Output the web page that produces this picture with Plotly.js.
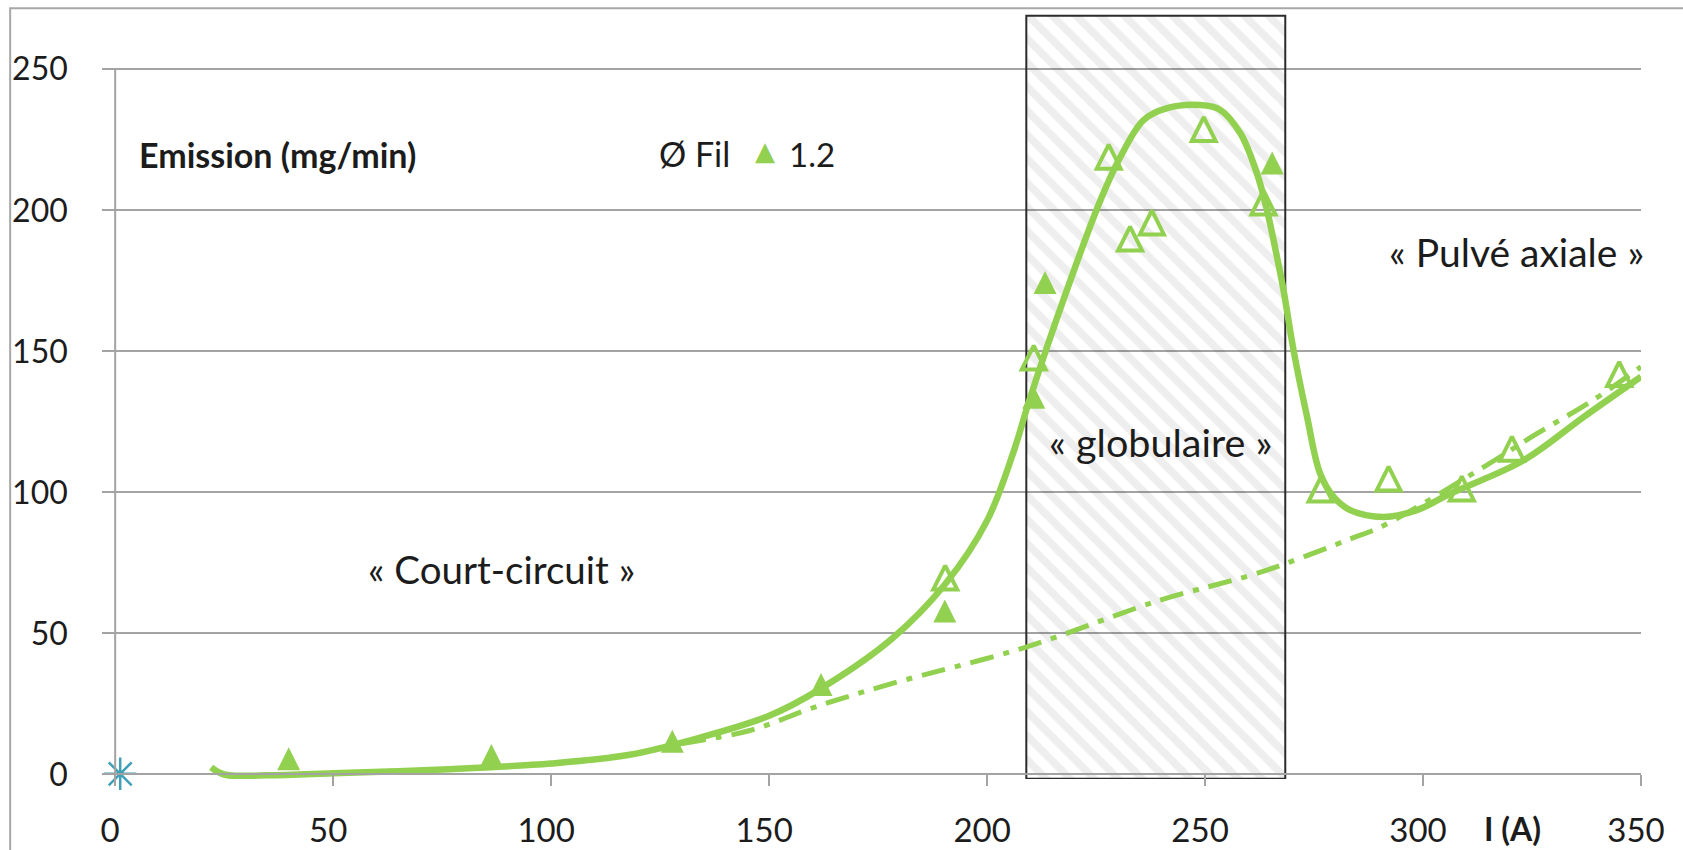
<!DOCTYPE html>
<html><head><meta charset="utf-8">
<script src="https://cdn.plot.ly/plotly-3.0.1.min.js"></script>
<style>html,body{margin:0;padding:0;background:#fff;} #chart{width:1683px;height:850px;}</style>
</head><body><div id="chart"></div>
<script>
// ---- data ----
// filled triangles (series Ø 1.2)
const filledI = [39.8, 86.3, 127.8, 161.9, 190.3, 210.7, 213.3, 265.4];
const filledE = [5.6, 6.7, 11.8, 31.9, 58.0, 133.7, 174.4, 216.8];
// open triangles
const openI = [190.4, 210.7, 227.9, 232.8, 237.8, 249.7, 263.4, 276.5, 292.1, 308.9, 320.4, 345.0];
const openE = [69.8, 147.8, 219.0, 190.0, 195.7, 228.8, 202.8, 101.0, 104.9, 101.4, 115.5, 142.0];
// solid fitted curve
const fitI = [22, 25, 35, 50, 75, 100, 118, 134, 150, 161.4, 178.1, 190.4, 200, 206.2, 209.7, 218.3, 226, 230.6, 235.9, 241.3, 248.9, 253.5, 258.1, 261.9, 264.2, 266.5, 268, 270.3, 273.4, 276.4, 279.5, 283.3, 291, 298.6, 306.3, 323.1, 336.9, 350];
const fitE = [2.5, 0.0, -0.3, 0.4, 1.8, 3.9, 7.0, 13.0, 20.8, 30.0, 48.0, 67.5, 90.0, 115.0, 132.7, 171.7, 203.6, 219.0, 232.0, 236.2, 237.3, 235.6, 227.3, 213.1, 200.1, 183.5, 171.7, 150.4, 126.8, 106.7, 98.4, 93.7, 91.3, 93.7, 99.6, 111.4, 126.8, 141.0];
// dash-dot baseline curve
const baseI = [130, 145.6, 160.5, 178.1, 208.8, 239.5, 260.4, 269.4, 283.3, 291, 313.9, 326.2, 338.4, 350];
const baseE = [11.0, 15.6, 23.9, 32.2, 45.1, 61.7, 70.6, 75.3, 83.5, 88.3, 109.0, 120.9, 132.1, 144.5];
// reference point (star)
const refI = [1.15];
const refE = [0.25];
// globular transfer region (A)
const globularStart = 209.0;
const globularEnd = 268.4;
// axis ticks
const xTicks = [0, 50, 100, 150, 200, 250, 300, 350];
const yTicks = [0, 50, 100, 150, 200, 250];
const seriesName = '1.2';

// ---- styling ----
const GREEN = '#92D050';
const GRID = '#a3a3a3';
const FONT = 'Lato, "Open Sans", sans-serif';
const TXT = '#1c1c1c';
const yMin = -1.6, yMax = 269.6, xMin = -0.5, xMax = 350;
const regionBottom = -1.5, regionTop = 269.0;

const traces = [
  {
    type: 'bar',
    x: [(globularStart + globularEnd) / 2],
    y: [regionTop - regionBottom],
    base: [regionBottom],
    width: [globularEnd - globularStart],
    marker: {
      color: 'rgba(255,255,255,0)',
      line: {color: '#2b2b2b', width: 2},
      pattern: {shape: '\\', fgcolor: 'rgba(0,0,0,0.065)', bgcolor: 'rgba(255,255,255,0)', size: 17, solidity: 0.45, fillmode: 'replace'}
    },
    hoverinfo: 'skip', showlegend: false
  },
  {
    type: 'scatter', mode: 'lines', x: baseI, y: baseE,
    line: {color: GREEN, width: 5, dash: '24px,10px,6px,10px', shape: 'spline', smoothing: 1},
    showlegend: false, hoverinfo: 'skip'
  },
  {
    type: 'scatter', mode: 'lines', x: fitI, y: fitE,
    line: {color: GREEN, width: 6.5, shape: 'spline', smoothing: 1},
    showlegend: false, hoverinfo: 'skip'
  },
  {
    type: 'scatter', mode: 'markers', x: openI, y: openE,
    marker: {symbol: 'arrow-down-open', angle: 180, size: 24, standoff: 12, color: GREEN, line: {color: GREEN, width: 4}},
    showlegend: false, cliponaxis: false
  },
  {
    type: 'scatter', mode: 'markers', x: filledI, y: filledE, name: seriesName,
    marker: {symbol: 'arrow-down', angle: 180, size: 23, standoff: 11.5, color: GREEN, line: {width: 0}},
    showlegend: false, cliponaxis: false
  },
  {
    type: 'scatter', mode: 'markers', x: refI, y: refE,
    marker: {symbol: 'asterisk-open', size: 27, color: '#3FA0B8', line: {color: '#3FA0B8', width: 2.5}},
    showlegend: false, cliponaxis: false
  }
];

const ppx = 4.359, ppy = 2.8188;
const mL = 115 + xMin * ppx;
const plotW = (xMax - xMin) * ppx;
const mR = 1683 - mL - plotW;
const mT = 774 - yMax * ppy;
const plotH = (yMax - yMin) * ppy;
const mB = 850 - mT - plotH;

const layout = {
  width: 1683, height: 850,
  margin: {l: mL, r: mR, t: mT, b: mB, autoexpand: false},
  paper_bgcolor: '#ffffff', plot_bgcolor: '#ffffff',
  font: {family: FONT, size: 33, color: TXT},
  showlegend: false,
  xaxis: {
    range: [xMin, xMax], anchor: 'free', position: (0 - yMin) / (yMax - yMin),
    tickvals: xTicks, ticktext: xTicks.map(String),
    showgrid: false, zeroline: false,
    showline: true, linecolor: GRID, linewidth: 2,
    ticks: 'outside', ticklen: 11, tickwidth: 2, tickcolor: GRID,
    tickfont: {family: FONT, size: 33, color: TXT},
    ticklabelstandoff: 16, ticklabelshift: -5
  },
  yaxis: {
    range: [yMin, yMax], anchor: 'free', position: (0 - xMin) / (xMax - xMin),
    tickvals: yTicks, ticktext: yTicks.map(String),
    showgrid: true, gridcolor: GRID, gridwidth: 2, zeroline: false,
    showline: false,
    ticks: 'outside', ticklen: 13, tickwidth: 2, tickcolor: GRID,
    tickfont: {family: FONT, size: 32, color: TXT},
    ticklabelstandoff: 28
  },
  shapes: [
    {type: 'line', xref: 'x', yref: 'y', x0: 0, x1: 0, y0: 0, y1: yTicks[yTicks.length - 1], line: {color: GRID, width: 2}},
    {type: 'rect', xref: 'paper', yref: 'paper', x0: (10 - mL) / plotW, x1: 1.2, y0: -0.3, y1: (mT + plotH - 8.3) / plotH, line: {color: '#a8a8a8', width: 2}, fillcolor: 'rgba(0,0,0,0)'}
  ],
  annotations: [
    {xref: 'x', yref: 'y', x: 5.0, y: 219.8, xanchor: 'left', yanchor: 'middle', showarrow: false,
     text: '<b>Emission (mg/min)</b>', font: {family: FONT, size: 34, color: TXT}},
    {xref: 'x', yref: 'y', x: 124.3, y: 220.0, xanchor: 'left', yanchor: 'middle', showarrow: false,
     text: 'Ø Fil', font: {family: FONT, size: 34, color: TXT}},
    {xref: 'x', yref: 'y', x: 149.1, y: 221.0, xanchor: 'center', yanchor: 'middle', showarrow: false,
     text: '▲', font: {family: 'DejaVu Sans', size: 26, color: GREEN}},
    {xref: 'x', yref: 'y', x: 154.0, y: 220.0, xanchor: 'left', yanchor: 'middle', showarrow: false,
     text: seriesName, font: {family: FONT, size: 33, color: TXT}},
    {xref: 'x', yref: 'y', x: 88.6, y: 72.8, xanchor: 'center', yanchor: 'middle', showarrow: false,
     text: '« Court-circuit »', font: {family: FONT, size: 38.5, color: TXT}},
    {xref: 'x', yref: 'y', x: 239.7, y: 118.0, xanchor: 'center', yanchor: 'middle', showarrow: false,
     text: '« globulaire »', font: {family: FONT, size: 39.5, color: TXT}},
    {xref: 'x', yref: 'y', x: 321.5, y: 185.3, xanchor: 'center', yanchor: 'middle', showarrow: false,
     text: '« Pulvé axiale »', font: {family: FONT, size: 39, color: TXT}},
    {xref: 'x', yref: 'paper', x: 320.5, y: (mT + plotH - 828) / plotH, xanchor: 'center', yanchor: 'middle', showarrow: false,
     text: '<b>I (A)</b>', font: {family: FONT, size: 32, color: TXT}}
  ]
};

Plotly.newPlot('chart', traces, layout, {displayModeBar: false, staticPlot: true});
</script>
</body></html>
